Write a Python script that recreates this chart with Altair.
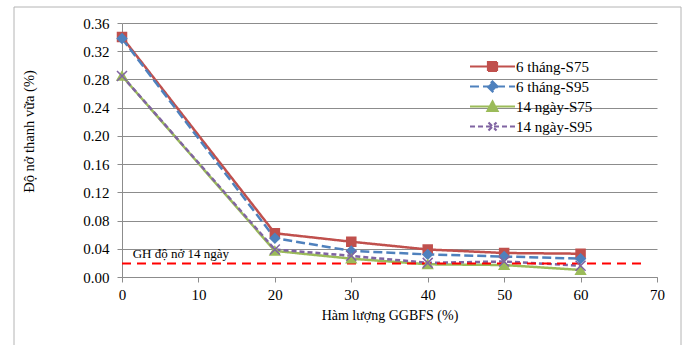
import altair as alt
import pandas as pd

# ---- data ----
ggbfs = [0, 20, 30, 40, 50, 60]
series_names = ["6 tháng-S75", "6 tháng-S95", "14 ngày-S75", "14 ngày-S95"]
m6_s75 = [0.340, 0.062, 0.050, 0.039, 0.034, 0.033]
m6_s95 = [0.338, 0.055, 0.037, 0.032, 0.029, 0.026]
d14_s75 = [0.285, 0.037, 0.026, 0.018, 0.017, 0.010]
d14_s95 = [0.285, 0.039, 0.030, 0.020, 0.022, 0.016]
limit_value = 0.019
limit_label = "GH độ nở 14 ngày"
limit_x_start = 0
limit_x_end = 68
limit_label_x = 1.4
y_ticks = [0.00, 0.04, 0.08, 0.12, 0.16, 0.20, 0.24, 0.28, 0.32, 0.36]
x_ticks = [0, 10, 20, 30, 40, 50, 60, 70]

# ---- styles ----
colors = ["#C0504D", "#4F81BD", "#9BBB59", "#8064A2"]
dashes = [[1, 0], [9, 4], [1, 0], [5, 3]]
shapes = ["square", "diamond", "triangle-up", "M-1,-1L1,1M-1,1L1,-1"]
sizes = [81, 100, 100, 64]
legend_paths = [
    "M-4.5,0H4.5M-0.9,-0.9H0.9V0.9H-0.9Z",
    "M-4.5,0H4.5M0,-1L1,0L0,1L-1,0Z",
    "M-4.5,0H4.5M0,-1L1,0.9H-1Z",
    "M-4.5,0H4.5M-0.8,-0.8L0.8,0.8M-0.8,0.8L0.8,-0.8",
]
FONT = "Liberation Serif, DejaVu Serif, serif"
GRAY = "#8C8C8C"

all_series = [m6_s75, m6_s95, d14_s75, d14_s95]
rows = []
for name, vals in zip(series_names, all_series):
    for xv, yv in zip(ggbfs, vals):
        rows.append({"series": name, "ggbfs": xv, "value": yv})
df = pd.DataFrame(rows)

limit_df = pd.DataFrame({"ggbfs": [limit_x_start], "x2": [limit_x_end], "value": [limit_value],
                         "lx": [limit_label_x], "label": [limit_label]})

xs = alt.Scale(domain=[0, 70], nice=False)
ys = alt.Scale(domain=[0, 0.36], nice=False)

x_axis = alt.Axis(values=x_ticks, grid=False, tickSize=5, labelPadding=5,
                  labelFlush=False, labelOverlap=False,
                  titlePadding=6, titleFontSize=14, titleFontWeight="normal")
y_axis = alt.Axis(values=y_ticks, format=".2f", grid=True, tickSize=5,
                  labelPadding=8, labelFlush=False, labelOverlap=False,
                  titleFontSize=14.5, titleFontWeight="normal",
                  titleAlign="center", titleBaseline="bottom",
                  titleX=-86, titleY=108)
x_enc = alt.X("ggbfs:Q", scale=xs, title="Hàm lượng GGBFS (%)", axis=x_axis)
y_enc = alt.Y("value:Q", scale=ys, title="Độ nở thanh vữa (%)", axis=y_axis)

line_layers = []
for i, name in enumerate(series_names):
    leg = alt.Legend(
        title=None, orient="none", legendX=363, legendY=36 + 20 * i, padding=0,
        symbolType=legend_paths[i], symbolSize=100, symbolStrokeWidth=2.2,
        symbolDash=dashes[i], symbolFillColor=colors[i], symbolStrokeColor=colors[i],
        symbolOpacity=1,
        labelFont=FONT, labelFontSize=15, labelColor="black", labelOffset=16,
    )
    layer = alt.Chart(df[df["series"] == name]).mark_line(
        strokeWidth=2.5, strokeDash=dashes[i]
    ).encode(
        x=x_enc, y=y_enc,
        color=alt.Color("series:N", scale=alt.Scale(domain=[name], range=[colors[i]]), legend=leg),
        order=alt.Order("ggbfs:Q"),
    )
    line_layers.append(layer)

points = alt.Chart(df).mark_point(filled=True, opacity=1, strokeWidth=1.5).encode(
    x=x_enc, y=y_enc,
    color=alt.Color("series:N", scale=alt.Scale(domain=series_names, range=colors), legend=None),
    stroke=alt.Stroke("series:N", scale=alt.Scale(domain=series_names, range=colors), legend=None),
    shape=alt.Shape("series:N", scale=alt.Scale(domain=series_names, range=shapes), legend=None),
    size=alt.Size("series:N", scale=alt.Scale(domain=series_names, range=sizes), legend=None),
)

limit_rule = alt.Chart(limit_df).mark_rule(color="#FF0000", strokeDash=[9, 6], strokeWidth=2).encode(
    x=x_enc, x2="x2:Q", y=y_enc
)
limit_text = alt.Chart(limit_df).mark_text(align="left", baseline="bottom", dy=-3,
                                           font=FONT, fontSize=13, color="black").encode(
    x=alt.X("lx:Q", scale=xs, title="Hàm lượng GGBFS (%)", axis=x_axis), y=y_enc, text="label:N"
)

frame_df = pd.DataFrame({"a": [0]})
frame_color = "#B4B4B4"
frame_left = alt.Chart(frame_df).mark_rule(color=frame_color, strokeWidth=1).encode(
    x=alt.value(-108), y=alt.value(-16), y2=alt.value(330))
frame_right = alt.Chart(frame_df).mark_rule(color=frame_color, strokeWidth=1).encode(
    x=alt.value(559), y=alt.value(-16), y2=alt.value(330))
frame_top = alt.Chart(frame_df).mark_rule(color=frame_color, strokeWidth=1).encode(
    x=alt.value(-108), x2=alt.value(559), y=alt.value(-16))

chart = alt.layer(
    *line_layers, limit_rule, points, limit_text, frame_left, frame_right, frame_top
).resolve_scale(color="independent").properties(
    width=535, height=254,
    autosize=alt.AutoSizeParams(type="none"),
    padding={"left": 122, "top": 23, "right": 33, "bottom": 68},
    background="white",
).configure_view(stroke=None).configure_axis(
    labelFont=FONT, titleFont=FONT, labelFontSize=15, labelColor="black", titleColor="black",
    domainColor=GRAY, tickColor=GRAY, gridColor=GRAY, gridWidth=1,
).configure_text(font=FONT).configure_legend(labelFont=FONT)

chart.save("out.html", embed_options={"renderer": "svg", "actions": False})
